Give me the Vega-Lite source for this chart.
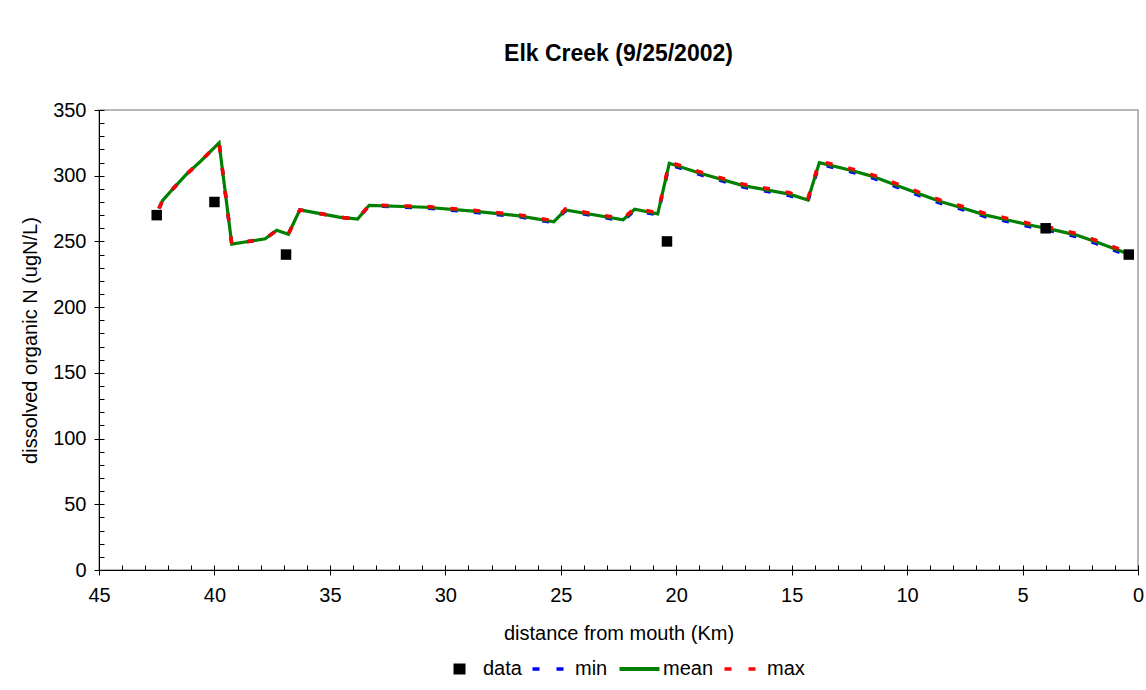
{
  "$schema": "https://vega.github.io/schema/vega-lite/v6.json",
  "width": 1039,
  "height": 460,
  "autosize": {"type": "none"},
  "padding": {"left": 99, "top": 110, "right": 8, "bottom": 120},
  "background": "white",
  "title": {
    "text": "Elk Creek (9/25/2002)",
    "fontSize": 23,
    "fontWeight": "bold",
    "font": "Liberation Sans",
    "color": "black",
    "anchor": "middle",
    "baseline": "alphabetic",
    "offset": 16
  },
  "datasets": {
    "model": [
      {"km": 42.4, "min": 275, "mean": 275, "max": 275},
      {"km": 42.25, "min": 281, "mean": 281, "max": 281},
      {"km": 41.9, "min": 288, "mean": 288, "max": 288},
      {"km": 41.25, "min": 300.5, "mean": 300.5, "max": 300.5},
      {"km": 40.6, "min": 311, "mean": 311, "max": 311},
      {"km": 39.8, "min": 325, "mean": 325, "max": 325},
      {"km": 39.25, "min": 248, "mean": 248, "max": 248},
      {"km": 37.8, "min": 252, "mean": 252, "max": 252},
      {"km": 37.3, "min": 258.5, "mean": 258.5, "max": 258.5},
      {"km": 36.8, "min": 255.5, "mean": 255.5, "max": 255.5},
      {"km": 36.3, "min": 274, "mean": 274, "max": 274},
      {"km": 34.6, "min": 268.5, "mean": 268.5, "max": 268.5},
      {"km": 33.8, "min": 267, "mean": 267, "max": 267},
      {"km": 33.3, "min": 277.2, "mean": 277.5, "max": 277.8},
      {"km": 30.85, "min": 275.4, "mean": 276, "max": 276.6},
      {"km": 28.8, "min": 272.3, "mean": 273, "max": 273.7},
      {"km": 26.8, "min": 268.8, "mean": 269.5, "max": 270.2},
      {"km": 25.3, "min": 264.3, "mean": 265, "max": 265.7},
      {"km": 24.8, "min": 273.3, "mean": 274, "max": 274.7},
      {"km": 22.3, "min": 265.7, "mean": 266.5, "max": 267.3},
      {"km": 21.8, "min": 273.7, "mean": 274.5, "max": 275.3},
      {"km": 20.8, "min": 270.2, "mean": 271, "max": 271.8},
      {"km": 20.3, "min": 308.5, "mean": 309.5, "max": 310.5},
      {"km": 19.0, "min": 301, "mean": 302, "max": 303},
      {"km": 17.1, "min": 291.4, "mean": 292.5, "max": 293.6},
      {"km": 15.1, "min": 284.9, "mean": 286, "max": 287.1},
      {"km": 14.3, "min": 280.4, "mean": 281.5, "max": 282.6},
      {"km": 13.8, "min": 308.9, "mean": 310, "max": 311.1},
      {"km": 12.4, "min": 302.8, "mean": 304, "max": 305.2},
      {"km": 11.5, "min": 298.3, "mean": 299.5, "max": 300.7},
      {"km": 10.5, "min": 291.8, "mean": 293, "max": 294.2},
      {"km": 9.6, "min": 285.8, "mean": 287, "max": 288.2},
      {"km": 8.6, "min": 279.3, "mean": 280.5, "max": 281.7},
      {"km": 7.6, "min": 274.3, "mean": 275.5, "max": 276.7},
      {"km": 6.6, "min": 268.8, "mean": 270, "max": 271.2},
      {"km": 5.7, "min": 265.3, "mean": 266.5, "max": 267.7},
      {"km": 4.7, "min": 261.3, "mean": 262.5, "max": 263.7},
      {"km": 3.7, "min": 257.8, "mean": 259, "max": 260.2},
      {"km": 2.7, "min": 253.8, "mean": 255, "max": 256.2},
      {"km": 1.8, "min": 248.3, "mean": 249.5, "max": 250.7},
      {"km": 0.5, "min": 239.8, "mean": 241, "max": 242.2}
    ],
    "obs": [
      {"km": 42.5, "don": 270},
      {"km": 40.0, "don": 280},
      {"km": 36.9, "don": 240},
      {"km": 20.4, "don": 250},
      {"km": 4.0, "don": 260},
      {"km": 0.4, "don": 240}
    ]
  },
  "resolve": {"axis": {"x": "independent", "y": "independent"}},
  "layer": [
    {
      "data": {"name": "model"},
      "mark": {"type": "line", "strokeWidth": 3.5, "strokeDash": [7, 16], "clip": true},
      "encoding": {
        "x": {
          "field": "km", "type": "quantitative",
          "scale": {"domain": [0, 45], "reverse": true, "nice": false, "zero": false},
          "axis": {
            "orient": "bottom",
            "values": [0, 5, 10, 15, 20, 25, 30, 35, 40, 45],
            "title": "distance from mouth (Km)",
            "tickSize": 5, "labelPadding": 10, "titlePadding": 18,
            "labelFontSize": 20, "titleFontSize": 20, "titleFontWeight": "normal",
            "labelFont": "Liberation Sans", "titleFont": "Liberation Sans",
            "domainColor": "black", "tickColor": "black", "labelColor": "black", "titleColor": "black",
            "grid": false, "labelFlush": false, "labelOverlap": false
          }
        },
        "y": {
          "field": "min", "type": "quantitative",
          "scale": {"domain": [0, 350], "nice": false},
          "axis": {
            "orient": "left",
            "values": [0, 50, 100, 150, 200, 250, 300, 350],
            "title": "dissolved organic N (ugN/L)",
            "tickSize": 5, "labelPadding": 8, "titlePadding": 12,
            "labelFontSize": 20, "titleFontSize": 20, "titleFontWeight": "normal",
            "labelFont": "Liberation Sans", "titleFont": "Liberation Sans",
            "domainColor": "black", "tickColor": "black", "labelColor": "black", "titleColor": "black",
            "grid": false, "labelFlush": false, "labelOverlap": false
          }
        },
        "color": {
          "datum": "min",
          "type": "nominal",
          "scale": {"domain": ["data", "min", "mean", "max"], "range": ["#000000", "#0000ff", "#008000", "#ff0000"]},
          "legend": {
            "orient": "none",
            "legendX": 362,
            "legendY": 549,
            "direction": "horizontal",
            "title": null,
            "padding": 0,
            "symbolSize": 400,
            "symbolType": "stroke",
            "labelFontSize": 20,
            "labelFont": "Liberation Sans",
            "labelColor": "black",
            "labelOffset": 2,
            "columnPadding": 3,
            "encode": {
              "symbols": {
                "update": {
                  "shape": {"signal": "datum.value === 'data' ? 'M-1.75,-0.55H-0.55V0.55H-1.75Z' : (datum.value === 'mean' ? 'M-3.15,0H0.85' : 'M-3.05,0H0.05')"},
                  "size": {"value": 400},
                  "fill": {"signal": "datum.value === 'data' ? '#000000' : 'transparent'"},
                  "stroke": {"signal": "datum.value === 'data' ? 'transparent' : (datum.value === 'min' ? '#0000ff' : (datum.value === 'mean' ? '#008000' : '#ff0000'))"},
                  "strokeWidth": {"signal": "datum.value === 'data' ? 0 : (datum.value === 'mean' ? 4 : 3.5)"},
                  "strokeDash": {"signal": "(datum.value === 'min' || datum.value === 'max') ? [7, 17, 7, 100] : [1, 0]"},
                  "opacity": {"value": 1}
                }
              }
            }
          }
        }
      }
    },
    {
      "data": {"name": "model"},
      "mark": {"type": "line", "strokeWidth": 3.2, "clip": true},
      "encoding": {
        "x": {
          "field": "km", "type": "quantitative",
          "axis": {
            "orient": "bottom",
            "values": [0,1,2,3,4,5,6,7,8,9,10,11,12,13,14,15,16,17,18,19,20,21,22,23,24,25,26,27,28,29,30,31,32,33,34,35,36,37,38,39,40,41,42,43,44,45],
            "offset": -5, "tickSize": 5, "labels": false, "domain": false, "title": null,
            "tickColor": "black", "grid": false
          }
        },
        "y": {
          "field": "mean", "type": "quantitative",
          "axis": {
            "orient": "left",
            "values": [0,10,20,30,40,50,60,70,80,90,100,110,120,130,140,150,160,170,180,190,200,210,220,230,240,250,260,270,280,290,300,310,320,330,340,350],
            "offset": -5, "tickSize": 5, "labels": false, "domain": false, "title": null,
            "tickColor": "black", "grid": false
          }
        },
        "color": {"datum": "mean", "type": "nominal"}
      }
    },
    {
      "data": {"name": "model"},
      "mark": {"type": "line", "strokeWidth": 3.5, "strokeDash": [7, 16], "clip": true},
      "encoding": {
        "x": {"field": "km", "type": "quantitative", "axis": null},
        "y": {"field": "max", "type": "quantitative", "axis": null},
        "color": {"datum": "max", "type": "nominal"}
      }
    },
    {
      "data": {"name": "obs"},
      "mark": {"type": "point", "shape": "square", "filled": true, "size": 110, "opacity": 1},
      "encoding": {
        "x": {"field": "km", "type": "quantitative", "axis": null},
        "y": {"field": "don", "type": "quantitative", "axis": null},
        "color": {"datum": "data", "type": "nominal"}
      }
    }
  ],
  "config": {
    "font": "Liberation Sans",
    "view": {"stroke": "#a0a0a0", "strokeWidth": 1.5}
  }
}
